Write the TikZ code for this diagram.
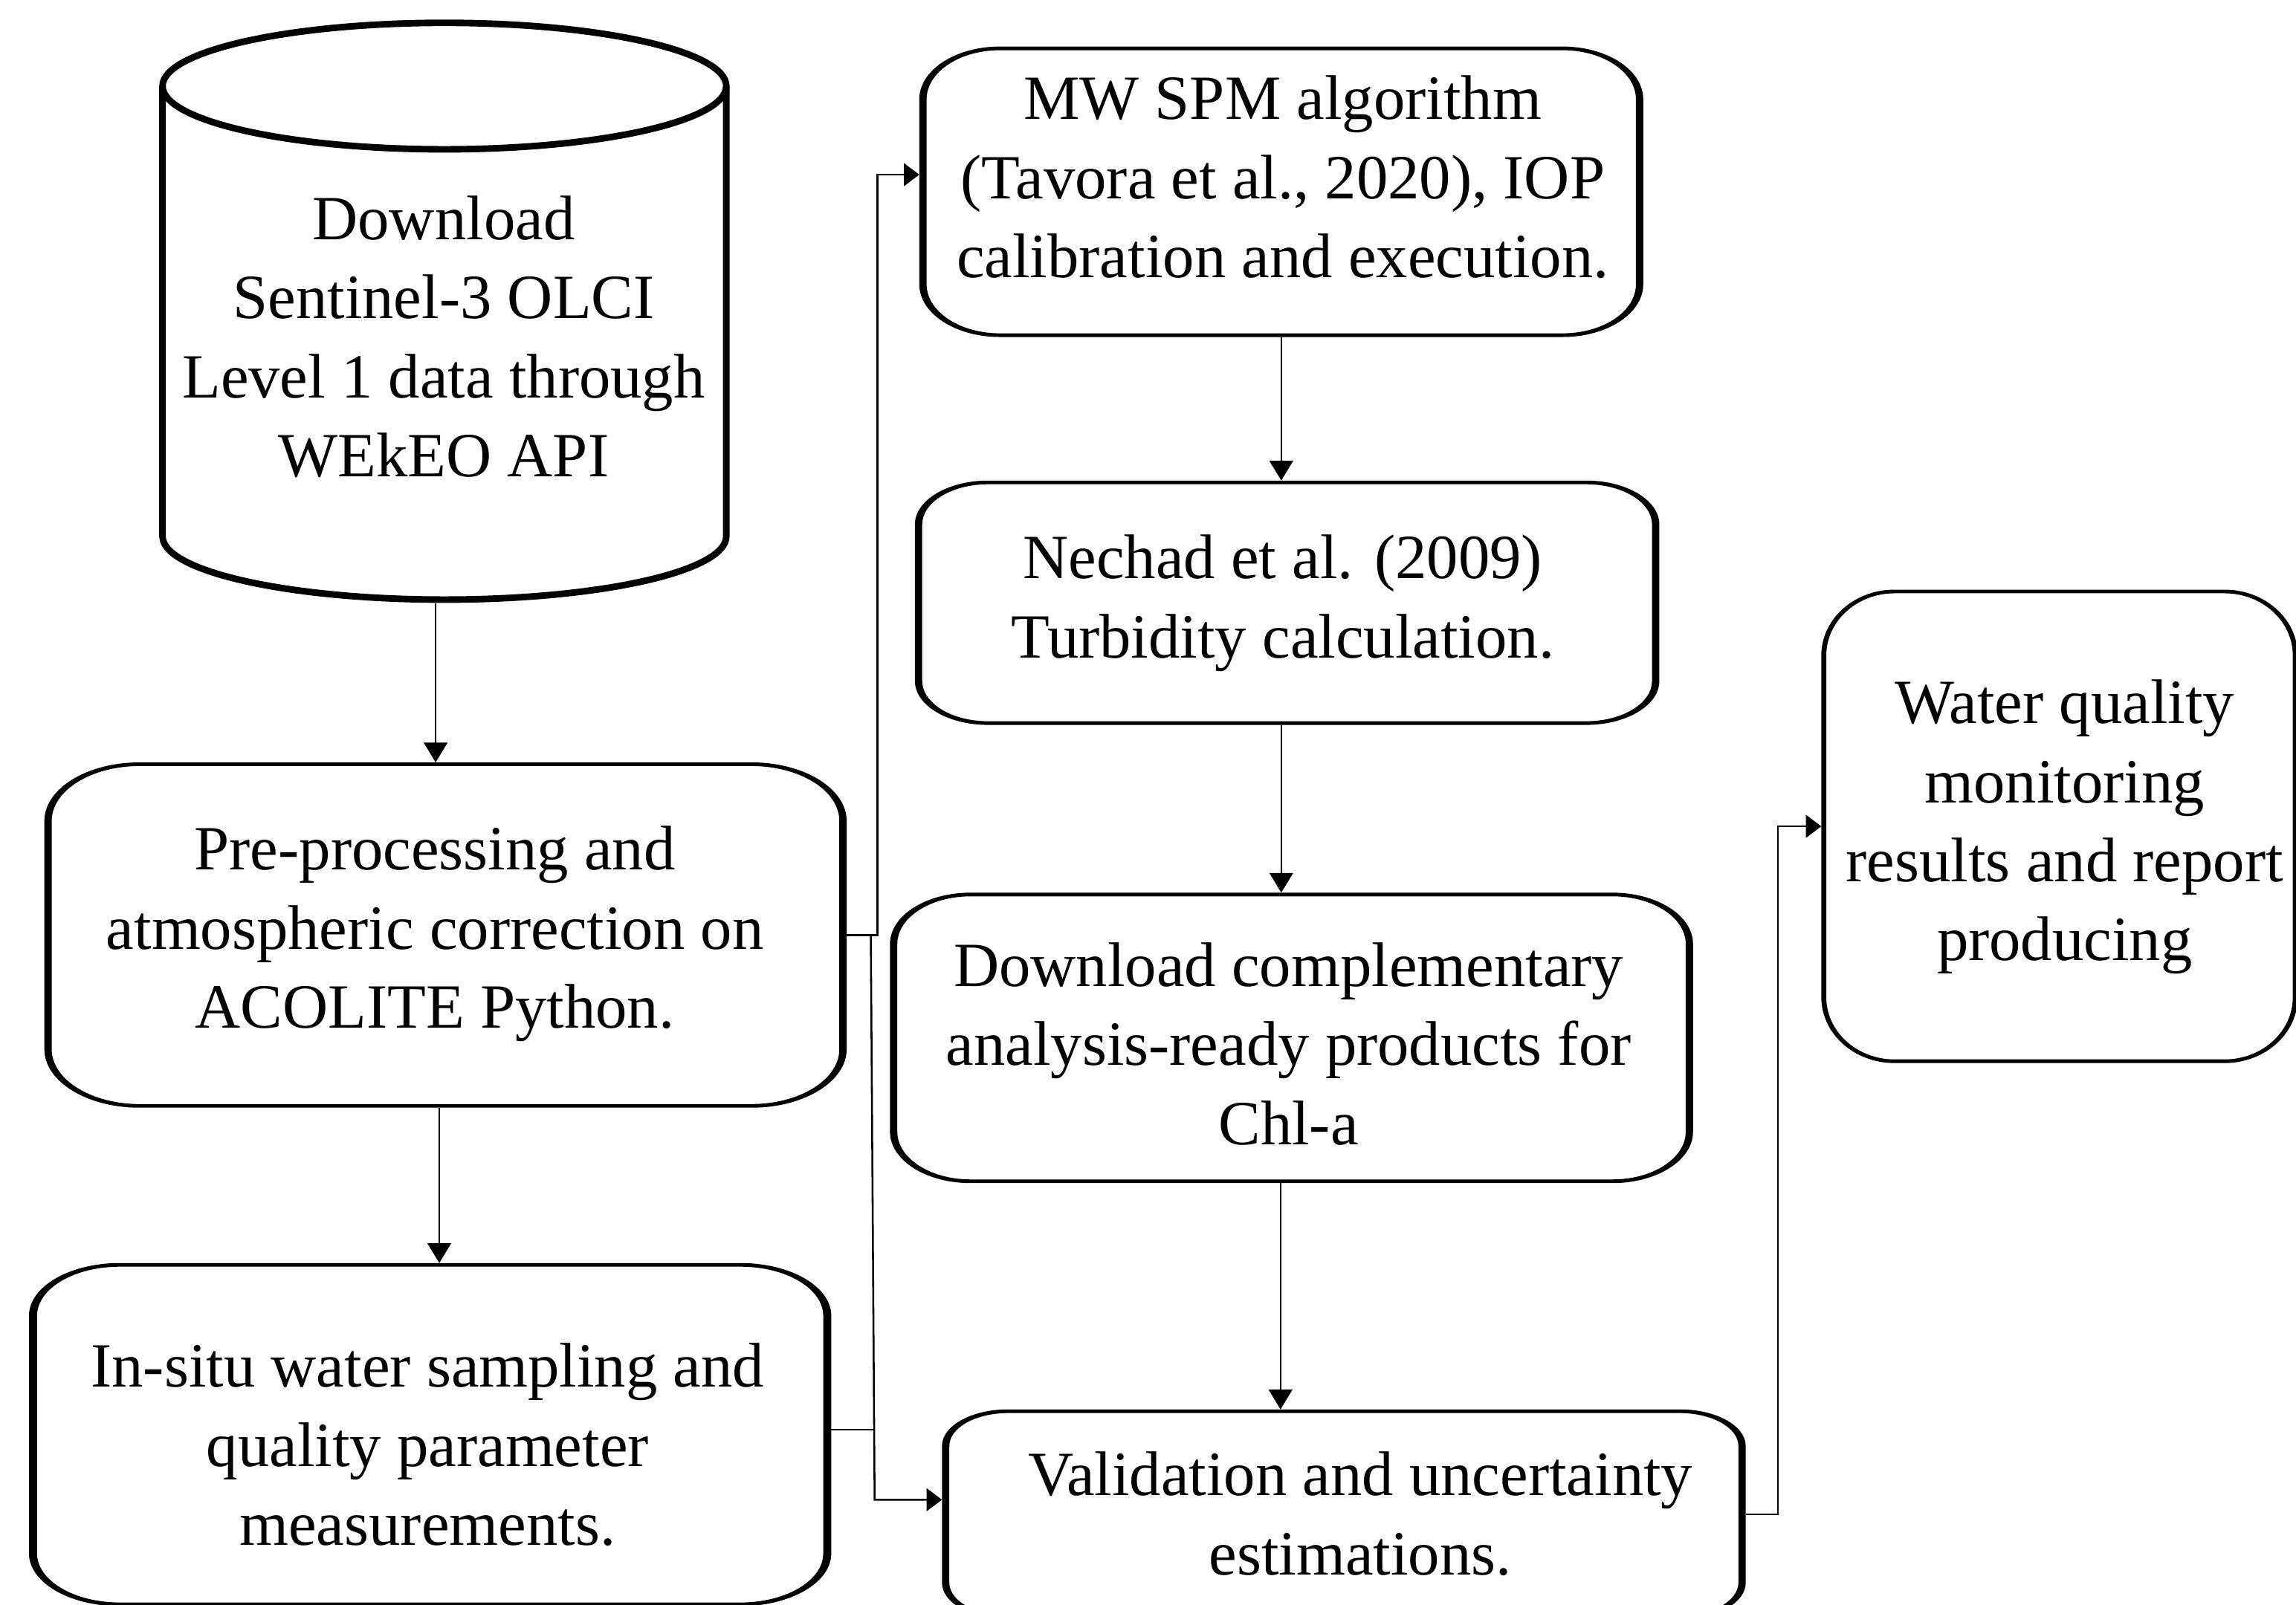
\documentclass[tikz,border=0pt]{standalone}
\usepackage{fontspec}
\setmainfont{Liberation Serif}
\usetikzlibrary{arrows.meta}
% rounded rectangle path with elliptical corners: x1 y1 x2 y2 rx ry (canvas, y up)
\newcommand\wrr[6]{({#1},{#4-(#6)}) -- ({#1},{#2+(#6)})
  arc[start angle=180,end angle=270,x radius={#5},y radius={#6}] -- ({#3-(#5)},{#2})
  arc[start angle=270,end angle=360,x radius={#5},y radius={#6}] -- ({#3},{#4-(#6)})
  arc[start angle=0,end angle=90,x radius={#5},y radius={#6}] -- ({#1+(#5)},{#4})
  arc[start angle=90,end angle=180,x radius={#5},y radius={#6}] -- cycle}
% outline of a named node: name, rx, ry, side stroke, top/bottom stroke
\newcommand\wshape[5]{%
  \pgfpointanchor{#1}{south west}\pgfgetlastxy\wxa\wya
  \pgfpointanchor{#1}{north east}\pgfgetlastxy\wxb\wyb
  \pgfmathsetmacro\wxa{\wxa}\pgfmathsetmacro\wya{\wya}%
  \pgfmathsetmacro\wxb{\wxb}\pgfmathsetmacro\wyb{\wyb}%
  \begin{scope}[x=1pt,y=1pt]
    \fill[black,even odd rule] \wrr{\wxa}{\wya}{\wxb}{\wyb}{#2}{#3}
      \wrr{\wxa+#4}{\wya+#5}{\wxb-#4}{\wyb-#5}{#2-#4}{#3-#5};
  \end{scope}}
\begin{document}
\begin{tikzpicture}[x=1pt,y=-1pt,
  boxnode/.style={rectangle,inner sep=0pt,draw=none},
  boxtext/.style={font=\fontsize{43pt}{54pt}\selectfont,align=center,inner sep=0pt},
  conn/.style={line width=1.3pt,black},
  varr/.style={-{Triangle[length=13.5pt,width=16pt]}},
  harr/.style={-{Triangle[length=10.5pt,width=15.5pt]}},
  cylline/.style={line width=4.5pt,black}]
\useasboundingbox (0,0) rectangle (1568,1096);
% box nodes (outer extents)
\node[boxnode,minimum width=390pt,minimum height=398.6pt] (cyl) at (303.5,212.7) {};
\node[boxnode,minimum width=547.5pt,minimum height=235.5pt] (pre) at (304.25,638.75) {};
\node[boxnode,minimum width=547.5pt,minimum height=234pt] (insitu) at (293.75,980) {};
\node[boxnode,minimum width=494pt,minimum height=198pt] (mw) at (875,131) {};
\node[boxnode,minimum width=508pt,minimum height=166.5pt] (nechad) at (879,411.75) {};
\node[boxnode,minimum width=548pt,minimum height=198pt] (dc) at (882,709) {};
\node[boxnode,minimum width=548.5pt,minimum height=143pt] (val) at (917.75,1034.5) {};
\node[boxnode,minimum width=325pt,minimum height=323pt] (wq) at (1406.5,564.5) {};
% outlines
\wshape{pre}{65}{40}{5}{2.5}
\wshape{insitu}{62}{36}{5.5}{2.5}
\wshape{mw}{55}{36}{5}{2.5}
\wshape{nechad}{50}{30}{5}{2.5}
\wshape{dc}{55}{35}{5}{2.5}
\wshape{val}{45}{25}{5}{2.5}
\wshape{wq}{50}{45}{3.4}{2.5}
% cylinder
\draw[cylline] (303.5,58.8) ellipse[x radius=192.5,y radius=43.2];
\draw[cylline] (496,58.8) -- (496,366.4) arc[start angle=0,end angle=180,x radius=192.5,y radius=43.2] -- (111,58.8);
% texts
\node[boxtext] (tcyl) at (303,230) {Download\\Sentinel-3 OLCI\\Level 1 data through\\WEkEO API};
\node[boxtext] (tpre) at (297,638) {Pre-processing and\\atmospheric correction on\\ACOLITE Python.};
\node[boxtext] (tinsitu) at (292,987) {In-situ water sampling and\\quality parameter\\measurements.};
\node[boxtext] (tmw) at (876,121) {MW SPM algorithm\\(Tavora et al., 2020), IOP\\calibration and execution.};
\node[boxtext] (tnechad) at (876,412) {Nechad et al. (2009)\\Turbidity calculation.};
\node[boxtext] (tdc) at (880,713) {Download complementary\\analysis-ready products for\\Chl-a};
\node[boxtext] (tval) at (929,1034) {Validation and uncertainty\\estimations.};
\node[boxtext] (twq) at (1410,565) {Water quality\\monitoring\\results and report\\producing};
% connectors
\draw[conn,varr] ([xshift=-6pt]cyl.south) -- ([xshift=-6pt]cyl.south |- pre.north);
\draw[conn,varr] ([xshift=-4.25pt]pre.south) -- ([xshift=-4.25pt]pre.south |- insitu.north);
\draw[conn,harr] (pre.east) -- ++(21,0) |- ([yshift=11.7pt]mw.west);
\draw[conn,harr] ([xshift=16.5pt]pre.east) -- ([xshift=-46pt,yshift=10pt]val.west) -- ([yshift=10pt]val.west);
\draw[conn] ([yshift=3.4pt]insitu.east) -- ++(29.5,0);
\draw[conn,varr] (mw.south) -- (mw.south |- nechad.north);
\draw[conn,varr] ([xshift=-4pt]nechad.south) -- ([xshift=-4pt]nechad.south |- dc.north);
\draw[conn,varr] ([xshift=-7.5pt]dc.south) -- ([xshift=-7.5pt]dc.south |- val.north);
\draw[conn,harr] (val.east) -- ++(22,0) |- (wq.west);
\end{tikzpicture}
\end{document}
